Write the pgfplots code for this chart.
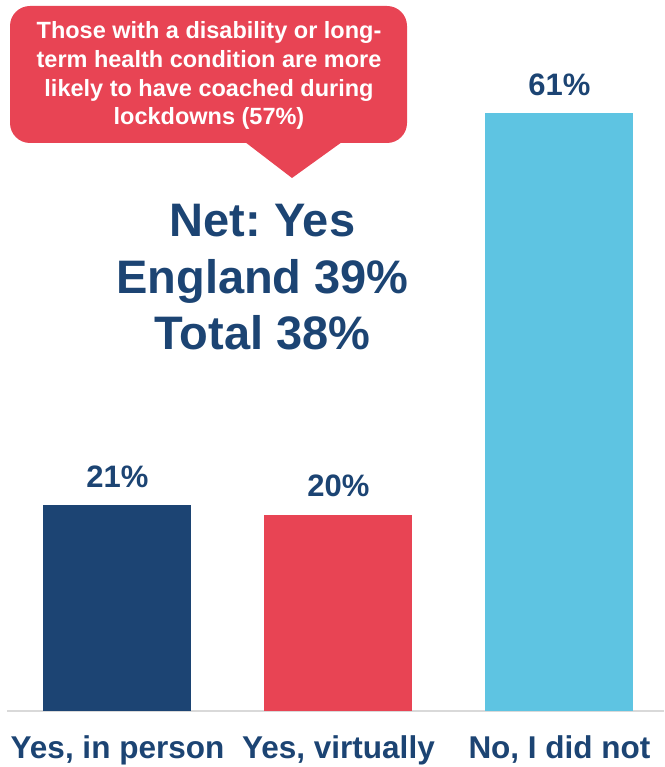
\documentclass[border=0pt]{standalone}
\usepackage{pgfplots}
\pgfplotsset{compat=1.18}
\usepackage{fontspec}
\setmainfont{Liberation Sans}
\frenchspacing
\definecolor{navy}{HTML}{1C4473}
\definecolor{cred}{HTML}{E84454}
\definecolor{lblue}{HTML}{5EC4E2}
\definecolor{linegray}{HTML}{D9D9D9}
\begin{document}
\begin{tikzpicture}
\begin{axis}[name=ax, scale only axis, width=657pt, height=711pt,
  xmin=-0.5, xmax=2.473, ymin=0, ymax=72.55,
  /pgf/number format/assume math mode=true,
  axis x line=bottom, axis y line=none,
  x axis line style={-, draw=linegray, line width=2pt},
  xtick={0,1,2},
  xticklabels={{Yes, in person},{Yes, virtually},{No, I did not}},
  major tick length=0pt,
  xticklabel style={font=\fontsize{31.5}{31.5}\selectfont\bfseries, text=navy, anchor=base, yshift=-47pt},
  ytick=\empty,
  bar width=148pt,
  nodes near coords={\pgfmathprintnumber{\pgfplotspointmeta}\%},
  nodes near coords style={font=\fontsize{31}{31}\selectfont\bfseries, text=navy, anchor=base, yshift=18pt},
  clip=false,
]
\addplot[ybar, bar shift=0pt, fill=navy, draw=none] coordinates {(0,21)};
\addplot[ybar, bar shift=0pt, fill=cred, draw=none] coordinates {(1,20)};
\addplot[ybar, bar shift=0pt, fill=lblue, draw=none] coordinates {(2,61)};
\end{axis}
\begin{scope}[shift={(ax.north west)}, xshift=-7pt, x=1pt, y=-1pt]
  \fill[cred, rounded corners=20pt] (10,6) rectangle (407,143);
  \fill[cred] (245,142) -- (342,142) -- (292,178) -- cycle;
  \begin{scope}[every node/.style={anchor=base, text=white, inner sep=0pt, font=\fontsize{23.5}{23.5}\selectfont\bfseries}]
    \node at (209,39) {Those with a disability or long-};
    \node at (209,67.7) {term health condition are more};
    \node at (209,96.3) {likely to have coached during};
    \node at (209,125) {lockdowns (57\%)};
  \end{scope}
  \begin{scope}[every node/.style={anchor=base, text=navy, inner sep=0pt, font=\fontsize{47}{47}\selectfont\bfseries}]
    \node at (262.5,237) {Net: Yes};
    \node at (262.5,294) {England 39\%};
    \node at (262.5,350) {Total 38\%};
  \end{scope}
\end{scope}
\pgfresetboundingbox
\path ([xshift=-7pt,yshift=-56pt]ax.south west) rectangle (ax.north east);
\end{tikzpicture}
\end{document}
